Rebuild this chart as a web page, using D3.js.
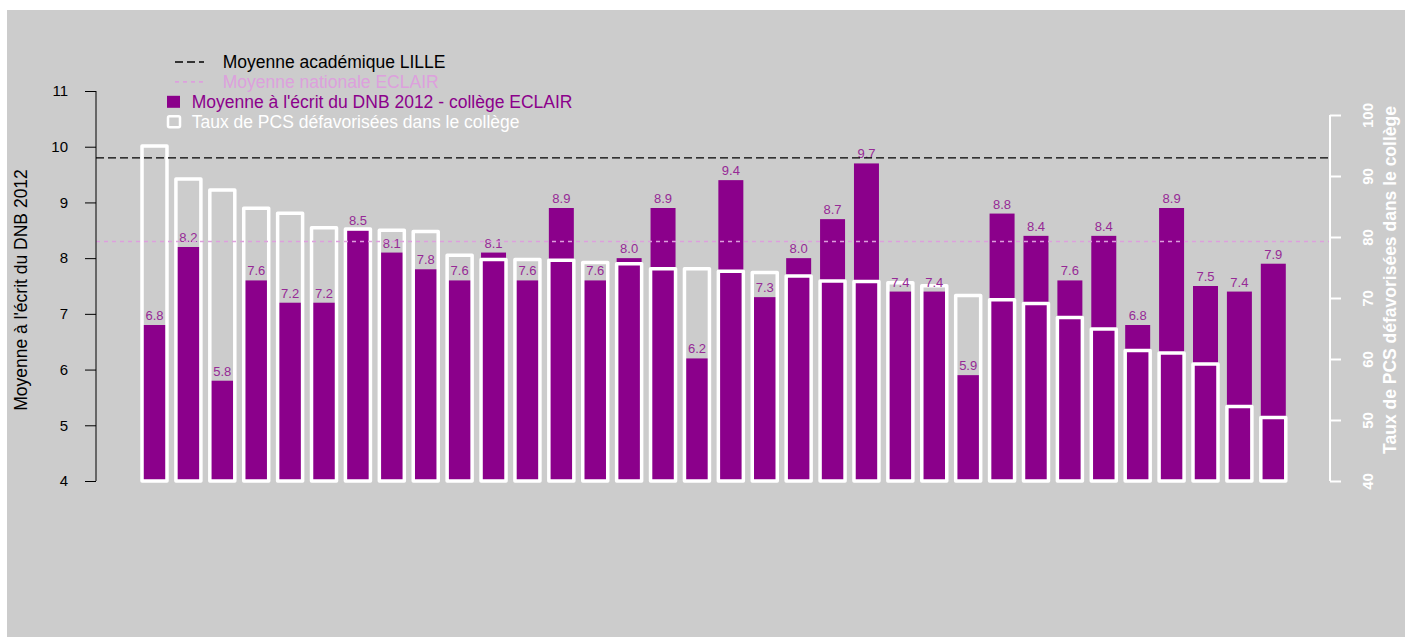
<!DOCTYPE html>
<html>
<head>
<meta charset="utf-8">
<script src="https://cdn.jsdelivr.net/npm/d3@7"></script>
<style>
  body { margin: 0; background: #fff; }
  svg { display: block; font-family: "Liberation Sans", Arial, sans-serif; }
</style>
</head>
<body>
<div id="main"></div>
<script>

// datas

const colleges = d3.range(1, 35);

const moyenneDNB = [6.8, 8.2, 5.8, 7.6, 7.2, 7.2, 8.5, 8.1, 7.8, 7.6, 8.1, 7.6, 8.9, 7.6, 8.0, 8.9, 6.2,
    9.4, 7.3, 8.0, 8.7, 9.7, 7.4, 7.4, 5.9, 8.8, 8.4, 7.6, 8.4, 6.8, 8.9, 7.5, 7.4, 7.9];

const tauxPCS = [94.9, 89.5, 87.7, 84.7, 83.9, 81.5, 81.3, 81.1, 80.9, 77.0, 76.3, 76.3, 76.2, 75.8, 75.6,
    74.8, 74.8, 74.4, 74.2, 73.6, 72.8, 72.7, 72.5, 72.0, 70.4, 69.7, 69.1, 66.8, 64.9, 61.4, 61.0, 59.2, 52.2, 50.4];

const moyenneLille = 9.8;
const moyenneEclair = 8.3;

const leftTicks = [4, 5, 6, 7, 8, 9, 10, 11];
const rightTicks = [40, 50, 60, 70, 80, 90, 100];

const legendItems = [
    { label: 'Moyenne académique LILLE', type: 'line', color: '#000', dash: '8,4' },
    { label: 'Moyenne nationale ECLAIR', type: 'line', color: '#dda0dd', dash: '4,4' },
    { label: "Moyenne à l'écrit du DNB 2012 - collège ECLAIR", type: 'fill', color: '#8b008b' },
    { label: 'Taux de PCS défavorisées dans le collège', type: 'box', color: '#fff' }
];

const w = 1405;
const h = 637;
const purple = '#8b008b';
const plum = '#dda0dd';

// svg

const svg = d3.select('#main').append('svg').attr('width', w).attr('height', h);

svg.append('rect')
    .attr('x', 7).attr('y', 10)
    .attr('width', w - 7).attr('height', h - 10)
    .attr('fill', '#cccccc');

// scales

const x = d3.scaleBand().domain(colleges).range([137.6, 1290.2]).paddingInner(0.263).paddingOuter(0.13);
const yLeft = d3.scaleLinear().domain([4, 11]).range([481, 91]);
const yRight = d3.scaleLinear().domain([40, 100]).range([481, 115]);

// bars

svg.append('g')
    .selectAll('rect')
    .data(moyenneDNB)
    .enter()
    .append('rect')
    .attr('x', (d, i) => x(colleges[i]))
    .attr('y', d => yLeft(d))
    .attr('width', x.bandwidth())
    .attr('height', d => yLeft(4) - yLeft(d))
    .attr('fill', purple);

svg.append('g')
    .selectAll('rect')
    .data(tauxPCS)
    .enter()
    .append('rect')
    .attr('x', (d, i) => x(colleges[i]))
    .attr('y', d => yRight(d))
    .attr('width', x.bandwidth())
    .attr('height', d => yRight(40) - yRight(d))
    .attr('fill', 'none')
    .attr('stroke', '#fff')
    .attr('stroke-width', 3.5)
    .attr('stroke-linejoin', 'round');

svg.append('g')
    .selectAll('text')
    .data(moyenneDNB)
    .enter()
    .append('text')
    .attr('x', (d, i) => x(colleges[i]) + x.bandwidth() / 2)
    .attr('y', d => yLeft(d) - 5)
    .attr('text-anchor', 'middle')
    .attr('font-size', 13)
    .attr('fill', '#962a96')
    .text(d => d.toFixed(1));

// lignes moyennes

svg.append('line')
    .attr('x1', 96).attr('x2', 1330)
    .attr('y1', yLeft(moyenneLille)).attr('y2', yLeft(moyenneLille))
    .attr('stroke', '#000').attr('stroke-width', 1.3).attr('stroke-dasharray', '8,4');

svg.append('line')
    .attr('x1', 96).attr('x2', 1330)
    .attr('y1', yLeft(moyenneEclair)).attr('y2', yLeft(moyenneEclair))
    .attr('stroke', plum).attr('stroke-width', 1.6).attr('stroke-dasharray', '4,4');

// axes

const axL = svg.append('g')
    .attr('transform', 'translate(96,0)')
    .call(d3.axisLeft(yLeft).tickValues(leftTicks).tickFormat(d3.format('d')).tickSize(11).tickPadding(17));
axL.selectAll('path,line').attr('stroke', '#000');
axL.select('.domain').attr('d', `M0,${yLeft(4)}V${yLeft(11)}`);
axL.selectAll('text').attr('font-size', 15).attr('font-family', null).attr('fill', '#000');

const axR = svg.append('g')
    .attr('transform', 'translate(1330,0)')
    .call(d3.axisRight(yRight).tickValues(rightTicks).tickSize(11));
axR.selectAll('path,line').attr('stroke', '#fff').attr('stroke-width', 2);
axR.select('.domain').attr('d', `M0,${yRight(40)}V${yRight(100)}`);
axR.selectAll('text')
    .attr('font-size', 15).attr('font-family', null).attr('fill', '#fff').attr('font-weight', 'bold')
    .attr('text-anchor', 'middle').attr('dy', null)
    .attr('x', null)
    .attr('transform', 'translate(43,0) rotate(-90)')
    .attr('y', 0);

svg.append('text')
    .attr('transform', 'translate(27,290) rotate(-90)')
    .attr('text-anchor', 'middle')
    .attr('font-size', 17.5)
    .attr('fill', '#000')
    .text("Moyenne à l'écrit du DNB 2012");

svg.append('text')
    .attr('transform', 'translate(1396,280) rotate(-90)')
    .attr('text-anchor', 'middle')
    .attr('font-size', 17.5)
    .attr('font-weight', 'bold')
    .attr('fill', '#fff')
    .text('Taux de PCS défavorisées dans le collège');

// legend

const legend = svg.append('g').attr('id', 'legend');
const ly = d3.scalePoint().domain(legendItems.map(d => d.label)).range([62, 121.7]);

legendItems.forEach(d => {
    const yy = ly(d.label);
    if (d.type === 'line') {
        legend.append('line')
            .attr('x1', 175).attr('x2', 204).attr('y1', yy).attr('y2', yy)
            .attr('stroke', d.color).attr('stroke-width', d.color === '#000' ? 1.3 : 1.6)
            .attr('stroke-dasharray', d.dash);
    } else if (d.type === 'fill') {
        legend.append('rect')
            .attr('x', 167).attr('y', yy - 6).attr('width', 13).attr('height', 12)
            .attr('fill', d.color);
    } else {
        legend.append('rect')
            .attr('x', 168).attr('y', yy - 5.5).attr('width', 12).attr('height', 11).attr('rx', 1.5)
            .attr('fill', 'none').attr('stroke', d.color).attr('stroke-width', 2.5);
    }
    legend.append('text')
        .attr('x', d.type === 'line' ? 222.7 : 191.7)
        .attr('y', yy + 6)
        .attr('font-size', 17.5)
        .attr('fill', d.type === 'line' ? d.color : (d.type === 'fill' ? purple : '#fff'))
        .text(d.label);
});

</script>
</body>
</html>
